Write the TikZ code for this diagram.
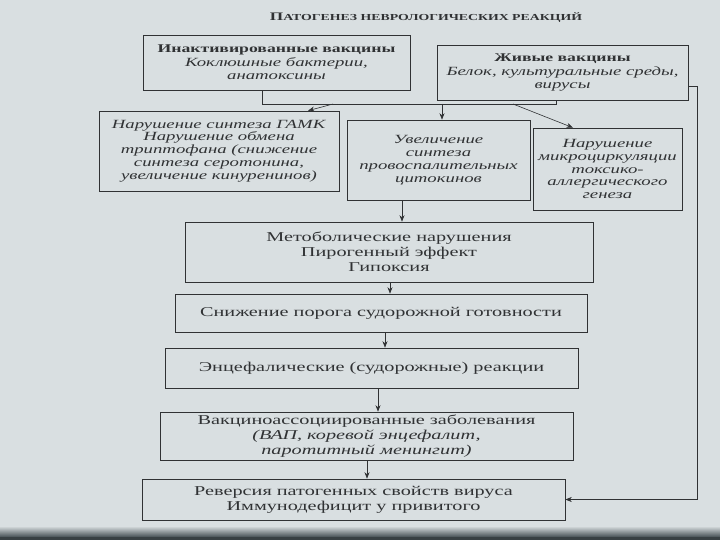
\documentclass[tikz,border=0pt]{standalone}
\usepackage{fontspec}
\setmainfont{Liberation Serif}[FakeStretch=1.5]
\usetikzlibrary{arrows.meta}
\definecolor{paper}{RGB}{217,223,225}
\definecolor{ink}{RGB}{48,50,52}
\definecolor{shade}{RGB}{70,80,84}
\tikzset{
  box/.style={draw=ink, line width=0.6pt, align=center, inner sep=0pt, text=ink,
    font=\fontsize{13.5}{15}\selectfont},
  tbox/.style={box, font=\fontsize{12.5}{12.8}\selectfont},
  vbox/.style={box, font=\fontsize{12.5}{13.5}\selectfont},
  conn/.style={draw=ink, line width=0.6pt},
  arr/.style={conn, -{Stealth[length=6.5pt,width=5pt]}}
}
\begin{document}
\begin{tikzpicture}[x=1pt,y=-1pt]
\fill[paper] (0,0) rectangle (720,540);
\shade[top color=paper, bottom color=shade] (0,526) rectangle (720,537);
\fill[shade!80!black] (0,537) rectangle (720,540);
\useasboundingbox (0,0) rectangle (720,540);

\node[text=ink, font=\bfseries\fontsize{9.2}{11}\selectfont] (title) at (426,18)
  {{\fontsize{11.5}{12}\selectfont П}АТОГЕНЕЗ НЕВРОЛОГИЧЕСКИХ РЕАКЦИЙ};

\node[vbox, minimum width=267pt, minimum height=55pt] (b1) at (276.5,62.5)
  {{\fontsize{11.8}{13}\selectfont\textbf{Инактивированные вакцины}}\\ \textit{Коклюшные бактерии,}\\ \textit{анатоксины}};
\node[vbox, minimum width=251pt, minimum height=55pt] (b2) at (562.5,72.5)
  {{\fontsize{11.8}{13}\selectfont\textbf{Живые вакцины}}\\ \textit{Белок, культуральные среды,}\\ \textit{вирусы}};

\node[tbox, minimum width=240pt, minimum height=80pt] (b3) at (219,151)
  {\textit{Нарушение синтеза ГАМК}\\ \textit{Нарушение обмена}\\ \textit{триптофана (снижение}\\
   \textit{синтеза серотонина,}\\ \textit{увеличение кинуренинов)}};
\node[tbox, minimum width=183pt, minimum height=80pt] (b4) at (438.5,160)
  {\textit{Увеличение}\\ \textit{синтеза}\\ \textit{провоспалительных}\\ \textit{цитокинов}};
\node[tbox, minimum width=149pt, minimum height=82pt] (b5) at (607.5,169)
  {\textit{Нарушение}\\ \textit{микроциркуляции}\\ \textit{токсико-}\\ \textit{аллергического}\\ \textit{генеза}};

\node[box, minimum width=408pt, minimum height=60pt] (b6) at (389,252)
  {Метоболические нарушения\\ Пирогенный эффект\\ Гипоксия};
\node[box, minimum width=412pt, minimum height=38pt] (b7) at (381,313)
  {Снижение порога судорожной готовности};
\node[box, minimum width=413pt, minimum height=40pt] (b8) at (371.5,368)
  {Энцефалические (судорожные) реакции};
\node[box, minimum width=413pt, minimum height=48pt] (b9) at (366.5,436)
  {Вакциноассоциированные заболевания\\ \textit{(ВАП, коревой энцефалит,}\\ \textit{паротитный менингит)}};
\node[box, minimum width=423pt, minimum height=41pt] (b10) at (353.5,499.5)
  {Реверсия патогенных свойств вируса\\ Иммунодефицит у привитого};

% bus from the two vaccine boxes
\coordinate (busL) at (262,104);
\coordinate (busR) at (556,104);
\draw[conn] (b1.south -| busL) -- (busL) -- (busR) -- (b2.south -| busR);
\coordinate (s1) at (333,104);
\coordinate (s2) at (442,104);
\coordinate (s3) at (513,104);
\draw[arr] (s1) -- ([xshift=89pt]b3.north);
\draw[arr] (s2) -- (s2 |- b4.north);
\draw[arr] (s3) -- ([xshift=-34.5pt]b5.north);

% main chain
\coordinate (v1) at (402,0);
\coordinate (v2) at (390,0);
\coordinate (v3) at (385,0);
\coordinate (v4) at (378,0);
\coordinate (v5) at (367,0);
\draw[arr] (b4.south -| v1) -- (b6.north -| v1);
\draw[arr] (b6.south -| v2) -- (b7.north -| v2);
\draw[arr] (b7.south -| v3) -- (b8.north -| v3);
\draw[arr] (b8.south -| v4) -- (b9.north -| v4);
\draw[arr] (b9.south -| v5) -- (b10.north -| v5);

% outer return line
\coordinate (o1) at (697,86);
\draw[arr] (b2.east |- o1) -- (o1) -- (o1 |- b10.east) -- (b10.east);
\end{tikzpicture}
\end{document}
